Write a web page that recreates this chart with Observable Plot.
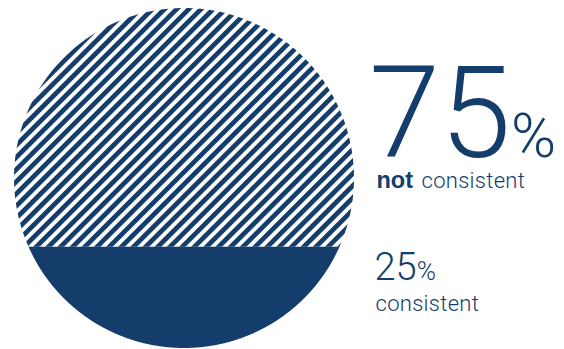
<!DOCTYPE html>
<html><head><meta charset="utf-8">
<script src="https://cdn.jsdelivr.net/npm/d3@7"></script>
<script src="https://cdn.jsdelivr.net/npm/@observablehq/plot@0.6"></script>
<style>html,body{margin:0;padding:0;background:#fff;} #chart{width:564px;height:349px;overflow:hidden;}</style>
</head><body><div id="chart"></div>
<script>
const segments = ["not consistent", "consistent"];
const shares = [75, 25];
const emphasis = ["not", ""];
const BLUE = "#143d6b";

// level of the horizontal cut so the lower segment holds its share of the disc area
const frac = shares[1] / d3.sum(shares);
function areaBelow(c) { return (c * Math.sqrt(1 - c * c) + Math.asin(c) + Math.PI / 2) / Math.PI; }
let lo = -1, hi = 1;
for (let i = 0; i < 60; i++) { const m = (lo + hi) / 2; if (areaBelow(m) < frac) lo = m; else hi = m; }
const cut = (lo + hi) / 2;
const xc = Math.sqrt(1 - cut * cut);

const N = 720;
const topXs = d3.range(N + 1).map(i => -Math.cos(Math.PI * i / N)).concat([-xc, xc]).sort((a, b) => a - b);
const topSeg = topXs.map(x => { const s = Math.sqrt(Math.max(0, 1 - x * x)); return {segment: segments[0], x, y1: Math.max(-s, cut), y2: s}; });
const bottomSeg = d3.range(N + 1).map(i => { const x = -xc * Math.cos(Math.PI * i / N); const s = Math.sqrt(Math.max(0, 1 - x * x)); return {segment: segments[1], x, y1: -s, y2: cut}; });

const R = 170, CX = 184, CY = 178, W = 564, H = 349;
const svgNode = Plot.plot({
  width: W, height: H, margin: 0,
  x: {domain: [-CX / R, (W - CX) / R], axis: null},
  y: {domain: [-(H - CY) / R, CY / R], axis: null},
  marks: [
    Plot.areaY(topSeg, {x: "x", y1: "y1", y2: "y2", fill: "url(#hatch)", curve: "linear"}),
    Plot.areaY(bottomSeg, {x: "x", y1: "y1", y2: "y2", fill: BLUE, curve: "linear"})
  ]
});
document.getElementById("chart").appendChild(svgNode);

const svg = d3.select(svgNode);
const p = 8.6;
svg.insert("defs", ":first-child").append("pattern")
  .attr("id", "hatch").attr("patternUnits", "userSpaceOnUse")
  .attr("width", p).attr("height", p).attr("patternTransform", "rotate(45)")
  .append("rect").attr("x", 0).attr("y", 0).attr("width", p * 0.55).attr("height", p).attr("fill", BLUE);

const g = svg.append("g").attr("font-family", "Roboto, 'Liberation Sans', sans-serif").attr("fill", BLUE).attr("text-anchor", "start");
const t1 = g.append("text").attr("x", 369).attr("y", 157);
t1.append("tspan").attr("font-size", 128).attr("font-weight", 300).text(String(shares[0]));
t1.append("tspan").attr("font-size", 61).attr("font-weight", 300).attr("dx", 0).text("%");
const t2 = g.append("text").attr("x", 376.5).attr("y", 188).attr("font-size", 22);
t2.append("tspan").attr("font-weight", 700).attr("font-size", 23.5).attr("font-family", "'Liberation Sans', Arial, sans-serif").text(emphasis[0]);
t2.append("tspan").attr("font-weight", 300).attr("x", 421.5).attr("letter-spacing", 0.3).text(segments[0].replace(emphasis[0] + " ", ""));
const t3 = g.append("text").attr("x", 374.5).attr("y", 280);
t3.append("tspan").attr("font-size", 38).attr("font-weight", 300).text(String(shares[1]));
t3.append("tspan").attr("font-size", 26).attr("font-weight", 300).text("%");
g.append("text").attr("x", 375.5).attr("y", 311).attr("font-size", 22).attr("font-weight", 300).attr("letter-spacing", 0.3).text(segments[1]);
</script>
</body></html>
